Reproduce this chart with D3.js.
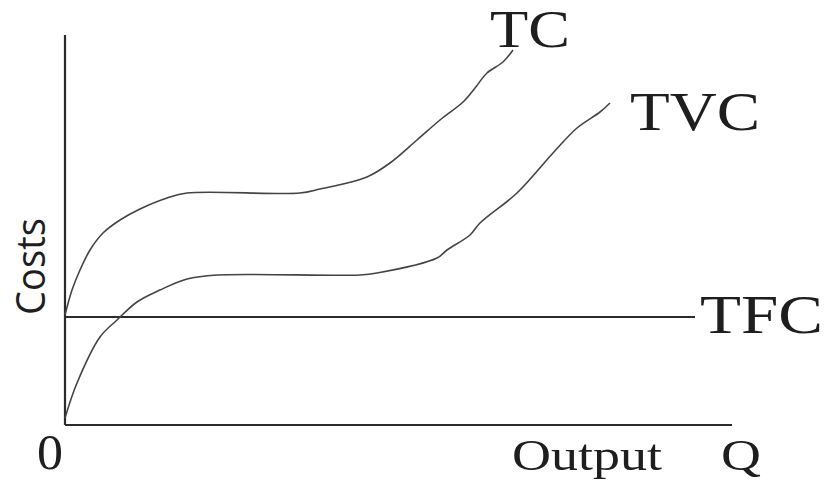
<!DOCTYPE html>
<html>
<head>
<meta charset="utf-8">
<script src="https://cdn.jsdelivr.net/npm/d3@7/dist/d3.min.js"></script>
<style>
  html, body { margin: 0; padding: 0; background: #fff; }
  svg { display: block; }
</style>
</head>
<body>
<svg id="chart" width="829" height="481"></svg>
<script>
// ---- data (schematic units) ----
const tcQ   = [0, 7, 15, 25, 38, 55, 75, 102, 122, 235, 255, 278, 302, 325, 352, 375, 398, 410, 422, 438, 448];
const tcVal = [110, 135, 155, 175, 192, 205, 216, 227, 232, 232, 236, 241, 248, 262, 285, 305, 323, 337, 352, 363, 375];

const tvcQ   = [0, 12, 35, 52, 72, 95, 122, 152, 295, 312, 372, 382, 405, 415, 452, 488, 512, 535, 545];
const tvcVal = [7, 42, 88, 105, 123, 135, 146, 150, 150, 152, 167, 175, 190, 202, 232, 272, 297, 313, 322];

const tfcQ   = [0, 630];
const tfcVal = [108, 108];

const xMax = 667, yMax = 390;
const seriesLabels = ["TC", "TVC", "TFC"];
const axisLabels = { y: "Costs", x: "Output", q: "Q", origin: "0" };

// ---- scales ----
const svg = d3.select("#chart");
const x = d3.scaleLinear().domain([0, xMax]).range([65, 732]);
const y = d3.scaleLinear().domain([0, yMax]).range([425, 35]);

const lineGen = d3.line().x(d => x(d[0])).y(d => y(d[1])).curve(d3.curveCatmullRom.alpha(0.5));
const zip = (a, b) => a.map((v, i) => [v, b[i]]);

// ---- axes ----
svg.append("line")
  .attr("x1", x(0)).attr("x2", x(0)).attr("y1", y(0)).attr("y2", y(yMax))
  .attr("stroke", "#2b2b2b").attr("stroke-width", 2.2);
svg.append("line")
  .attr("x1", x(0)).attr("x2", x(xMax)).attr("y1", y(0)).attr("y2", y(0))
  .attr("stroke", "#2b2b2b").attr("stroke-width", 2.2);

// ---- series ----
svg.append("path").attr("d", d3.line().x(d => x(d[0])).y(d => y(d[1]))(zip(tfcQ, tfcVal)))
  .attr("fill", "none").attr("stroke", "#2b2b2b").attr("stroke-width", 1.8);
svg.append("path").attr("d", lineGen(zip(tcQ, tcVal)))
  .attr("fill", "none").attr("stroke", "#444").attr("stroke-width", 1.6);
svg.append("path").attr("d", lineGen(zip(tvcQ, tvcVal)))
  .attr("fill", "none").attr("stroke", "#444").attr("stroke-width", 1.6);

// ---- labels ----
const serif = "'Liberation Serif', 'Times New Roman', serif";
function label(text, px, py, size, len) {
  svg.append("text")
    .attr("x", px).attr("y", py)
    .attr("font-family", serif).attr("font-size", size)
    .attr("fill", "#1e1e1e")
    .attr("textLength", len).attr("lengthAdjust", "spacingAndGlyphs")
    .text(text);
}
label(seriesLabels[0], 490, 47, 53, 80);
label(seriesLabels[1], 630, 130, 54, 130);
label(seriesLabels[2], 700, 333, 54, 123);
label(axisLabels.x, 512, 470, 45, 150);
label(axisLabels.q, 721, 470, 45, 40);
label(axisLabels.origin, 37, 469, 50, 26);

svg.append("text")
  .attr("transform", "translate(45,315) rotate(-90)")
  .attr("font-family", "'Open Sans', 'Noto Sans', sans-serif")
  .attr("font-size", 41)
  .attr("fill", "#1e1e1e")
  .attr("textLength", 97).attr("lengthAdjust", "spacingAndGlyphs")
  .text(axisLabels.y);
</script>
</body>
</html>
